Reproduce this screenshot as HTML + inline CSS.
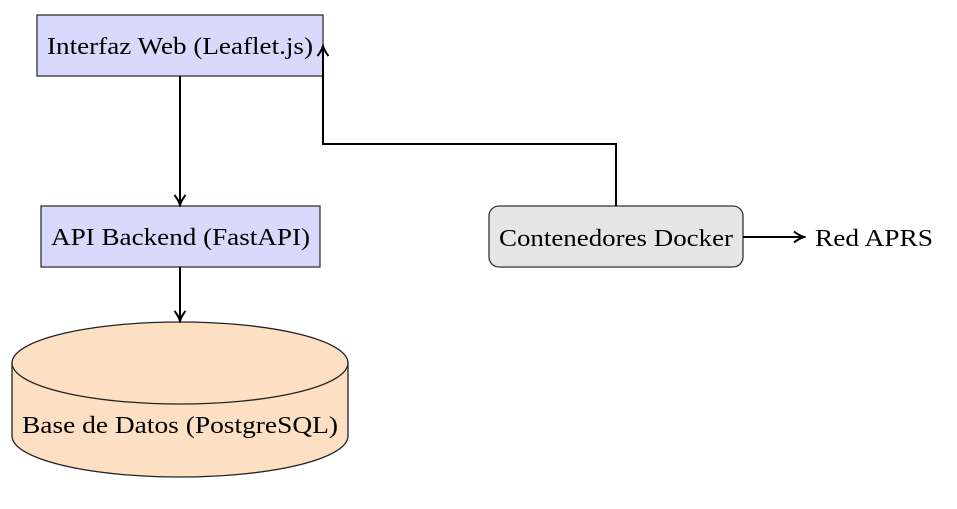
<!DOCTYPE html>
<html><head><meta charset="utf-8"><style>html,body{margin:0;padding:0;background:#fff}svg{display:block}</style></head>
<body>
<svg width="957" height="509" viewBox="0 0 957 509" xmlns="http://www.w3.org/2000/svg" font-family="Liberation Serif, serif" font-size="24.5">
<defs>
<marker id="a" markerWidth="14" markerHeight="14" refX="11" refY="7" orient="auto" markerUnits="userSpaceOnUse">
<path d="M2,1.5 Q7,5.5 12,7 Q7,8.5 2,12.5" fill="none" stroke="#000" stroke-width="2"/>
</marker>
</defs>
<rect x="37" y="15" width="286" height="61" fill="#d9d9fb" stroke="#333" stroke-width="1.3"/>
<text x="47" y="54" textLength="266" lengthAdjust="spacingAndGlyphs">Interfaz Web (Leaflet.js)</text>
<rect x="41" y="206" width="279" height="61" fill="#d9d9fb" stroke="#333" stroke-width="1.3"/>
<text x="51" y="245" textLength="259" lengthAdjust="spacingAndGlyphs">API Backend (FastAPI)</text>
<path d="M12,363 L12,436 A168,41 0 0 0 348,436 L348,363 Z" fill="#fde0c4" stroke="#222" stroke-width="1.3"/>
<ellipse cx="180" cy="363" rx="168" ry="41" fill="#fde0c4" stroke="#222" stroke-width="1.3"/>
<text x="22" y="433" textLength="316" lengthAdjust="spacingAndGlyphs">Base de Datos (PostgreSQL)</text>
<rect x="489" y="206" width="254" height="61" rx="10" fill="#e6e6e6" stroke="#333" stroke-width="1.3"/>
<text x="499" y="246" textLength="234" lengthAdjust="spacingAndGlyphs">Contenedores Docker</text>
<text x="815" y="246" textLength="118" lengthAdjust="spacingAndGlyphs">Red APRS</text>
<g stroke="#000" stroke-width="2" fill="none">
<line x1="180" y1="76" x2="180" y2="204" marker-end="url(#a)"/>
<line x1="180" y1="267" x2="180" y2="320" marker-end="url(#a)"/>
<path d="M616,206 V144 H323 V47" marker-end="url(#a)"/>
<line x1="743" y1="237" x2="803" y2="237" marker-end="url(#a)"/>
</g>
</svg>
</body></html>
